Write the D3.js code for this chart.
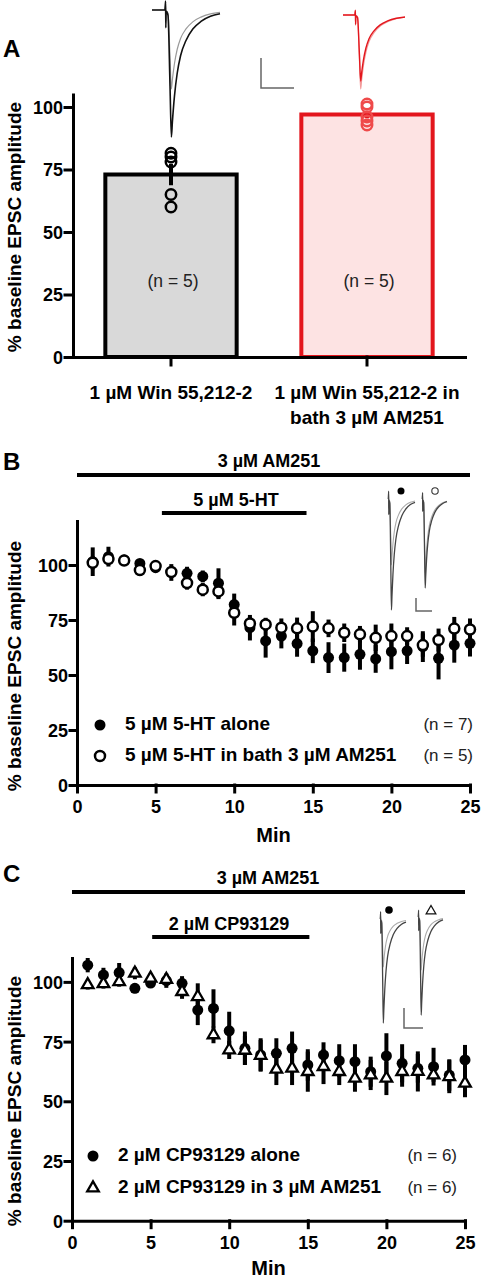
<!DOCTYPE html>
<html><head><meta charset="utf-8">
<script src="https://cdn.jsdelivr.net/npm/d3@7"></script>
<style>
body{margin:0;background:#fff;}
svg{display:block;font-family:"Liberation Sans",Arial,Helvetica,sans-serif;}
</style></head><body>
<svg id="c" width="481" height="1280"></svg>
<script>
// ---------- Panel A data ----------
const barCategories = ["Win", "WinAM"];
const barLabelLines = [["1 \u00b5M Win 55,212-2"], ["1 \u00b5M Win 55,212-2 in", "bath 3 \u00b5M AM251"]];
const barMeans = [73, 97];
const barSEM = [4.3, 1.5];
const barPointsWin = [81.5, 80, 78, 65, 60];
const barPointsWinAM = [101.2, 100, 96, 94.4, 92.8];
const barN = ["(n = 5)", "(n = 5)"];
const barTicks = [0, 25, 50, 75, 100];

// ---------- Panel B data ----------
const minutes = [1,2,3,4,5,6,7,8,9,10,11,12,13,14,15,16,17,18,19,20,21,22,23,24,25];
const htAlone    = [101.5,103.8,102.3,100.7,98.8,96.6,96.2,94.8,91.7,82,71.5,65.5,67.7,64.3,61,57.9,57.9,59.4,57.3,60.6,61,62.9,57.6,63.6,64.4];
const htAloneErr = [6.5,4.5,2,2,2,3.8,3,2.7,6.8,5,5.8,7.6,5.6,6,5.6,7,6.4,7,6.3,8,6,7,9.6,8,6];
const htAM       = [101,102.7,102,97.7,99.5,96.8,91.8,88.8,88,78.3,73.4,73,71.5,71.2,72,71.2,69.2,68.5,66.9,67.7,67.7,63.6,65.9,71.1,70.7];
const htAMErr    = [3,2,2,2.7,2,2,3,3,3.5,5.8,3,3,4.2,4.9,7,4,4.2,3.8,6,5.7,4,5.3,5.2,5.3,5];
const ticksB = [0,25,50,75,100];
const xTicks = [0,5,10,15,20,25];

// ---------- Panel C data ----------
const cpAlone    = [107,102.9,103.9,97.3,99.5,100.5,99.4,88.2,88.9,79.5,72.2,69.4,70.1,72.2,65.2,69.4,67,66.6,62.4,69,65.9,63.8,64.5,61,67.3];
const cpAloneErr = [3,3,4,2,2,3,3,6.3,8,8,7,7,6.3,7,6.6,5.3,6.9,7.3,6.3,9.5,8,6,7.9,6.6,6.3];
const cpAM       = [98.8,99.2,100,103.6,101.5,101,95.9,93.8,77.8,71.5,71.3,69.2,63.4,63.8,62.4,64.5,62.4,59.6,61,59.6,62.4,62.5,61,60.3,57.5];
const cpAMErr    = [2,2,2,2.5,2,2,3,5.6,3.5,3.8,6,6.5,6.6,7,8.4,7.3,5.6,5.6,6.3,7,6.3,8.4,2.8,6.9,5.8];
const ticksC = [0,25,50,75,100];

// drug application periods (min)
const am251PeriodB = [0, 25];
const htPeriod = [5.4, 14.6];
const am251PeriodC = [0, 25];
const cpPeriod = [5.1, 15.1];

// representative EPSC trace shape (normalised time, normalised depth)
const traceShape = [[0,0],[0.19,0],[0.2,-0.07],[0.203,0.14],[0.208,0.01],[0.235,0.04],[0.265,0.6],[0.285,1],[0.3,0.88],[0.33,0.68],[0.37,0.5],[0.42,0.36],[0.5,0.24],[0.6,0.15],[0.72,0.09],[0.86,0.05],[1,0.03]];

const svg = d3.select("#c");
const BOLD = "bold";

function styleAxis(g, fs){
  g.selectAll("path,line").attr("stroke","#000").attr("stroke-width",3).attr("stroke-linecap","square");
  g.selectAll("text").attr("font-weight",BOLD).attr("font-size",fs||18).attr("fill","#000");
}
function yLabel(cy){
  svg.append("text").attr("transform",`translate(21,${cy}) rotate(-90)`)
    .attr("text-anchor","middle").attr("font-weight",BOLD).attr("font-size",19)
    .text("% baseline EPSC amplitude");
}
function panelLetter(t, y){
  svg.append("text").attr("x",3).attr("y",y).attr("font-weight",BOLD).attr("font-size",24).text(t);
}
function drawTrace(x0, x1, t0, baseY, peakY, color, w){
  const xs = d3.scaleLinear().domain([t0,1]).range([x0,x1]);
  const ys = d3.scaleLinear().domain([0,1]).range([baseY,peakY]);
  const line = d3.line().x(d=>xs(d[0])).y(d=>ys(d[1])).curve(d3.curveMonotoneX);
  svg.append("path").datum(traceShape.filter(d=>d[0]>=t0)).attr("d",line)
    .attr("fill","none").attr("stroke",color).attr("stroke-width",w);
}
function scaleBar(x, yTop, yBot, xEnd){
  svg.append("path").attr("d",`M${x},${yTop}V${yBot}H${xEnd}`).attr("fill","none")
    .attr("stroke","#666").attr("stroke-width",1.5);
}

// ================= PANEL A =================
panelLetter("A", 57);
yLabel(227);
const yA = d3.scaleLinear().domain([0,105]).range([357,94.5]);
const xA = d3.scaleBand().domain(barCategories).range([73,465]).paddingInner(0.33).paddingOuter(0.165);

const barStyle = [{fill:"#d9d9d9", stroke:"#000", pt:"#000"},{fill:"#fde3e3", stroke:"#e3161d", pt:"#ef4a4a"}];
const barPts = [barPointsWin, barPointsWinAM];

barCategories.forEach((c,i)=>{
  svg.append("rect").attr("x",xA(c)).attr("width",xA.bandwidth())
    .attr("y",yA(barMeans[i])).attr("height",yA(0)-yA(barMeans[i]))
    .attr("fill",barStyle[i].fill).attr("stroke",barStyle[i].stroke).attr("stroke-width",4);
  const cx = xA(c)+xA.bandwidth()/2;
  svg.append("line").attr("x1",cx).attr("x2",cx)
    .attr("y1",yA(barMeans[i]-barSEM[i])).attr("y2",yA(barMeans[i]+barSEM[i]))
    .attr("stroke",barStyle[i].stroke).attr("stroke-width",4);
  svg.selectAll(null).data(barPts[i]).enter().append("circle")
    .attr("cx",cx).attr("cy",d=>yA(d)).attr("r",5.2)
    .attr("fill","none").attr("stroke",barStyle[i].pt).attr("stroke-width",2.5);
  svg.append("text").attr("x",cx+2).attr("y",287).attr("text-anchor","middle")
    .attr("font-size",17.5).attr("fill","#222").text(barN[i]);
  const t = svg.append("text").attr("text-anchor","middle").attr("font-weight",BOLD).attr("font-size",19);
  barLabelLines[i].forEach((ln,j)=>{
    t.append("tspan").attr("x",cx).attr("y",399+j*25).text(ln);
  });
});
svg.append("g").attr("transform","translate(73,0)")
  .call(d3.axisLeft(yA).tickValues(barTicks).tickSize(8).tickPadding(2).tickSizeOuter(0))
  .call(g=>styleAxis(g,18))
  .call(g=>g.selectAll("text").attr("dy","0.36em"));
svg.append("g").attr("transform","translate(0,357)")
  .call(d3.axisBottom(xA).tickSize(8).tickSizeOuter(0).tickFormat(""))
  .call(g=>styleAxis(g,18));

// traces A
drawTrace(152,220,0,10,89,"#9a9a9a",1.2);
drawTrace(152,220,0,10,137,"#111",1.6);
drawTrace(343,405,0,15,89,"#f39a9a",1.2);
drawTrace(343,405,0,15,81,"#e3161d",1.4);
scaleBar(261,58,88,294);

// ================= time-course panels =================
function timePanel(o){
  panelLetter(o.letter, o.letterY);
  yLabel(o.labelCY);
  const x = d3.scaleLinear().domain([0,25]).range([o.x0,o.x1]);
  const y = d3.scaleLinear().domain([0,o.yMax]).range([o.y0,o.yTop]);

  // drug bars
  svg.append("line").attr("x1",x(o.am[0])).attr("x2",x(o.am[1])).attr("y1",o.amY).attr("y2",o.amY)
    .attr("stroke","#000").attr("stroke-width",4);
  svg.append("text").attr("x",o.amTX).attr("y",o.amY-8).attr("text-anchor","middle")
    .attr("font-weight",BOLD).attr("font-size",18).text("3 \u00b5M AM251");
  svg.append("line").attr("x1",x(o.drug[0])).attr("x2",x(o.drug[1])).attr("y1",o.drugY).attr("y2",o.drugY)
    .attr("stroke","#000").attr("stroke-width",4);
  svg.append("text").attr("x",o.drugTX).attr("y",o.drugY-7).attr("text-anchor","middle")
    .attr("font-weight",BOLD).attr("font-size",18).text(o.drugLabel);

  // axes
  svg.append("g").attr("transform",`translate(${o.x0},0)`)
    .call(d3.axisLeft(y).tickValues(o.yTicks).tickSize(7).tickPadding(2).tickSizeOuter(0))
    .call(g=>styleAxis(g,18)).call(g=>g.selectAll("text").attr("dy","0.36em"));
  svg.append("g").attr("transform",`translate(0,${o.y0})`)
    .call(d3.axisBottom(x).tickValues(xTicks).tickSize(7).tickPadding(o.xPad).tickSizeOuter(0))
    .call(g=>styleAxis(g,18));
  svg.append("text").attr("x",(o.x0+o.x1)/2).attr("y",o.minY).attr("text-anchor","middle")
    .attr("font-weight",BOLD).attr("font-size",20).text("Min");

  // error bars
  [[o.s1,o.e1],[o.s2,o.e2]].forEach(([s,e])=>{
    svg.selectAll(null).data(minutes).enter().append("line")
      .attr("x1",d=>x(d)).attr("x2",d=>x(d))
      .attr("y1",(d,i)=>y(s[i]-e[i])).attr("y2",(d,i)=>y(s[i]+e[i]))
      .attr("stroke","#000").attr("stroke-width",4);
  });
  // filled markers
  svg.selectAll(null).data(minutes).enter().append("circle")
    .attr("cx",d=>x(d)).attr("cy",(d,i)=>y(o.s1[i])).attr("r",5.5).attr("fill","#000");
  // open markers
  if(o.open==="circle"){
    svg.selectAll(null).data(minutes).enter().append("circle")
      .attr("cx",d=>x(d)).attr("cy",(d,i)=>y(o.s2[i])).attr("r",5)
      .attr("fill","#fff").attr("stroke","#000").attr("stroke-width",2.5);
  } else {
    const tri = d3.symbol(d3.symbolTriangle,58);
    svg.selectAll(null).data(minutes).enter().append("path")
      .attr("d",tri).attr("transform",(d,i)=>`translate(${x(d)},${y(o.s2[i])})`)
      .attr("fill","#fff").attr("stroke","#000").attr("stroke-width",2.3);
  }

  // legend
  o.legend.forEach((L,i)=>{
    const ly = o.legY[i];
    if(i===0){
      svg.append("circle").attr("cx",o.legMX).attr("cy",ly-5).attr("r",5.5).attr("fill","#000");
    } else if(o.open==="circle"){
      svg.append("circle").attr("cx",o.legMX).attr("cy",ly-5).attr("r",5).attr("fill","#fff").attr("stroke","#000").attr("stroke-width",2.5);
    } else {
      svg.append("path").attr("d",d3.symbol(d3.symbolTriangle,58)).attr("transform",`translate(${o.legMX},${ly-5})`)
        .attr("fill","#fff").attr("stroke","#000").attr("stroke-width",2.3);
    }
    svg.append("text").attr("x",o.legTX).attr("y",ly).attr("font-weight",BOLD).attr("font-size",19).text(L[0]);
    svg.append("text").attr("x",o.legNX).attr("y",ly).attr("text-anchor","end").attr("font-size",17).attr("fill","#222").text(L[1]);
  });
}

timePanel({
  letter:"B", letterY:470, labelCY:666,
  x0:77, x1:470, y0:785, yTop:521, yMax:120, yTicks:ticksB, xPad:8, minY:842,
  am:am251PeriodB, amY:475, amTX:269, drug:htPeriod, drugY:513, drugTX:236, drugLabel:"5 \u00b5M 5-HT",
  s1:htAlone, e1:htAloneErr, s2:htAM, e2:htAMErr, open:"circle",
  legend:[["5 \u00b5M 5-HT alone","(n = 7)"],["5 \u00b5M 5-HT in bath 3 \u00b5M AM251","(n = 5)"]],
  legY:[730,761], legMX:100, legTX:125, legNX:473
});
timePanel({
  letter:"C", letterY:882, labelCY:1101,
  x0:72, x1:465, y0:1220.7, yTop:958, yMax:110, yTicks:ticksC, xPad:9, minY:1275,
  am:am251PeriodC, amY:892, amTX:268, drug:cpPeriod, drugY:937, drugTX:229, drugLabel:"2 \u00b5M CP93129",
  s1:cpAlone, e1:cpAloneErr, s2:cpAM, e2:cpAMErr, open:"triangle",
  legend:[["2 \u00b5M CP93129 alone","(n = 6)"],["2 \u00b5M CP93129 in 3 \u00b5M AM251","(n = 6)"]],
  legY:[1161,1193], legMX:93, legTX:118, legNX:457
});

// inset traces B
drawTrace(388,415,0.18,499,565,"#aaa",1.1);
drawTrace(388,415,0.18,499,610,"#444",1.3);
drawTrace(422,447,0.18,499,573,"#aaa",1.1);
drawTrace(422,447,0.18,499,588,"#444",1.3);
scaleBar(416,598,611,432);
svg.append("circle").attr("cx",401).attr("cy",491).attr("r",3.5).attr("fill","#000");
svg.append("circle").attr("cx",435).attr("cy",491).attr("r",3.2).attr("fill","#fff").attr("stroke","#333").attr("stroke-width",1.1);

// inset traces C
drawTrace(380,406,0.18,919,967,"#aaa",1.1);
drawTrace(380,406,0.18,919,1023,"#444",1.3);
drawTrace(418,443,0.18,917,970,"#aaa",1.1);
drawTrace(418,443,0.18,917,1015,"#444",1.3);
scaleBar(404,1008,1028,423);
svg.append("circle").attr("cx",389).attr("cy",910).attr("r",3.8).attr("fill","#000");
svg.append("path").attr("d",d3.symbol(d3.symbolTriangle,40)).attr("transform","translate(431,911)")
  .attr("fill","#fff").attr("stroke","#111").attr("stroke-width",1.3);
</script>
</body></html>
